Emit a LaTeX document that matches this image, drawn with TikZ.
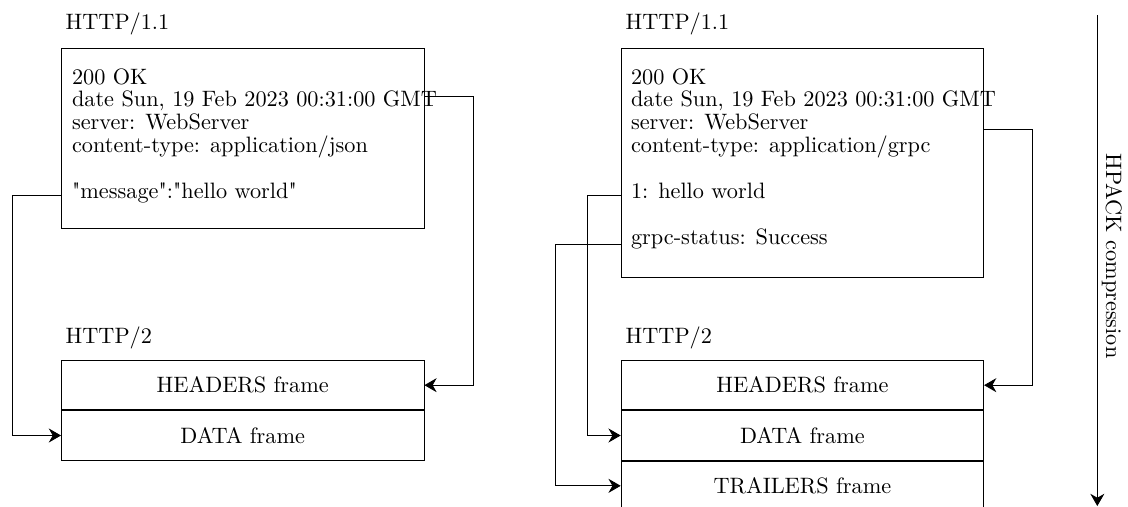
\documentclass[tikz,border=0pt]{standalone}
\usepackage{fontspec}
\usetikzlibrary{positioning,calc,arrows.meta}

\begin{document}
\begin{tikzpicture}[
    % Box styles
    msgbox/.style={draw, anchor=north west, minimum width=5.72cm, inner sep=0pt},
    framebox/.style={draw, minimum width=5.72cm, minimum height=0.78cm, inner sep=0pt},
    % Label styles
    proto/.style={anchor=base west, inner sep=0pt},
    hdrline/.style={anchor=base west, inner sep=0pt},
    % Connector style
    flowarrow/.style={-{Stealth[length=5.5pt, width=6.3pt]}},
]
\useasboundingbox (0,0) rectangle (17.8,-7.985);

% HTTP/1.1 side (JSON)
\node[proto] (lbl11) at (1.029,-0.473) {HTTP/1.1};
\node[msgbox, minimum height=2.85cm] (req1) at (0.963,-0.750) {};
\node[hdrline] (ok1) at (1.130,-1.327) {200 OK};
\node[hdrline] (date1) at (1.130,-1.688) {date Sun, 19 Feb 2023 00:31:00 GMT};
\node[hdrline] (serv1) at (1.130,-2.048) {server: WebServer};
\node[hdrline] (ctype1) at (1.130,-2.409) {content-type: application/json};
\node[hdrline] (msg1) at (1.130,-3.130) {\textquotedbl message\textquotedbl:\textquotedbl hello world\textquotedbl};

% HTTP/1.1 side (gRPC)
\node[proto] (lbl12) at (9.866,-0.473) {HTTP/1.1};
\node[msgbox, minimum height=3.62cm] (req2) at (9.795,-0.753) {};
\node[hdrline] (ok2) at (9.951,-1.327) {200 OK};
\node[hdrline] (date2) at (9.951,-1.688) {date Sun, 19 Feb 2023 00:31:00 GMT};
\node[hdrline] (serv2) at (9.951,-2.048) {server: WebServer};
\node[hdrline] (ctype2) at (9.951,-2.409) {content-type: application/grpc};
\node[hdrline] (hello2) at (9.951,-3.130) {1: hello world};
\node[hdrline] (grpc2) at (9.951,-3.851) {grpc-status: Success};

% HTTP/2 frames
\node[proto] (lbl21) at (1.029,-5.413) {HTTP/2};
\node[framebox, anchor=north west] (hdr1) at (0.963,-5.681) {HEADERS frame};
\node[framebox, below=0pt of hdr1] (data1) {DATA frame};

\node[proto] (lbl22) at (9.866,-5.413) {HTTP/2};
\node[framebox, anchor=north west] (hdr2) at (9.795,-5.681) {HEADERS frame};
\node[framebox, below=0pt of hdr2] (data2) {DATA frame};
\node[framebox, below=0pt of data2] (trl2) {TRAILERS frame};

% Mapping arrows
\draw[flowarrow] ($(date1.base -| req1.east)+(0,0.162)$) -- ++(0.776,0) |- (hdr1.east);
\draw[flowarrow] ($(msg1.base -| req1.west)+(0,0.053)$) -- ++(-0.774,0) |- (data1.west);
\draw[flowarrow] (serv2.base -| req2.east) -- ++(0.77,0) |- (hdr2.east);
\draw[flowarrow] ($(hello2.base -| req2.west)+(0,0.042)$) -- ++(-0.522,0) |- (data2.west);
\draw[flowarrow] (grpc2.base -| req2.west) -- ++(-1.037,0) |- (trl2.west);

% Compression axis
\coordinate (hptop) at (17.316,-0.237);
\coordinate (hpbot) at (17.316,-7.985);
\draw[flowarrow] (hptop) -- (hpbot);
\node[rotate=-90, anchor=base] (hpack) at (17.454,-4.04) {HPACK compression};

\end{tikzpicture}
\end{document}
